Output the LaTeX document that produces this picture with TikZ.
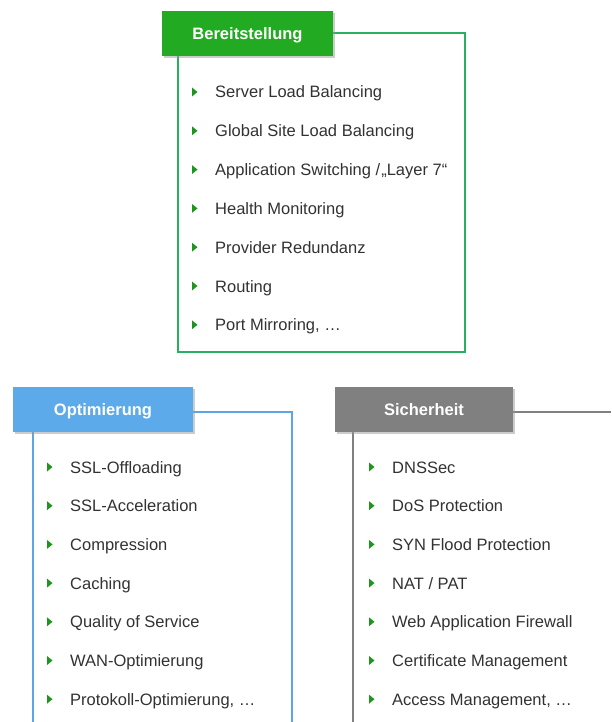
\documentclass[tikz,border=0pt]{standalone}
\usepackage{fontspec}
\setmainfont{Liberation Sans}
\usetikzlibrary{positioning,shadows,backgrounds}

\definecolor{headgreen}{RGB}{34,170,34}
\definecolor{linegreen}{RGB}{40,176,96}
\definecolor{headblue}{RGB}{92,170,234}
\definecolor{lineblue}{RGB}{92,166,230}
\definecolor{headgrey}{RGB}{128,128,128}
\definecolor{bulletgreen}{RGB}{30,150,30}
\definecolor{itemtext}{RGB}{50,50,50}

\begin{document}
\begin{tikzpicture}[x=1pt,y=-1pt,
  head/.style={minimum height=45pt,inner sep=0pt,text=white,text height=12pt,text depth=0pt,
    font=\fontsize{16.5}{19}\selectfont\bfseries,
    drop shadow={shadow xshift=2pt,shadow yshift=-2pt,fill=black!40,opacity=.5}},
  item/.style={anchor=west,inner sep=0pt,text=itemtext,text height=14pt,text depth=2pt,
    font=\fontsize{16.5}{19}\selectfont},
  bul/.style={fill=bulletgreen}]
  \useasboundingbox (0,0) rectangle (611,722);

  % title boxes
  \node[head,fill=headgreen,minimum width=171pt] (bt) at (247.5,33.5) {Bereitstellung};
  \node[head,fill=headblue,minimum width=180pt] (ot) at (103,409) {Optimierung};
  \node[head,fill=headgrey,minimum width=178pt] (st) at (424,409) {Sicherheit};

  % frames
  \begin{scope}[on background layer]
    \draw[linegreen,line width=2pt] (bt.east) -| (465,352) -| (bt.south -| 178,0);
    \draw[lineblue,line width=1.5pt] (ot.east |- 0,412) -| (292,722);
    \draw[lineblue,line width=1.5pt] (ot.south -| 33,0) -- (33,722);
    \draw[headgrey,line width=1.5pt] (st.east |- 0,412) -- (611,412);
    \draw[headgrey,line width=1.5pt] (st.south -| 353,0) -- (353,722);
  \end{scope}

  % Bereitstellung
  \foreach \t [count=\i] in {Server Load Balancing,Global Site Load Balancing,
      Application Switching /\kern1pt„Layer 7“,Health Monitoring,Provider Redundanz,
      Routing,{Port Mirroring, \dots}} {
    \node[item] (b\i) at (215,92+38.8*\i-38.8) {\t};
    \fill[bul] (b\i.west) ++(-23,-4.5) -- ++(5.5,4.5) -- ++(-5.5,4.5) -- cycle;
  }

  % Optimierung
  \foreach \t [count=\i] in {SSL-Offloading,SSL-Acceleration,Compression,Caching,
      Quality of Service,WAN-Optimierung,{Protokoll-Optimierung, \dots}} {
    \node[item] (o\i) at (70,467+38.7*\i-38.7) {\t};
    \fill[bul] (o\i.west) ++(-23,-4.5) -- ++(5.5,4.5) -- ++(-5.5,4.5) -- cycle;
  }

  % Sicherheit
  \foreach \t [count=\i] in {DNSSec,DoS Protection,SYN Flood Protection,NAT / PAT,
      Web Application Firewall,Certificate Management,{Access Management, \dots}} {
    \node[item] (s\i) at (392,467+38.7*\i-38.7) {\t};
    \fill[bul] (s\i.west) ++(-23,-4.5) -- ++(5.5,4.5) -- ++(-5.5,4.5) -- cycle;
  }
\end{tikzpicture}
\end{document}
